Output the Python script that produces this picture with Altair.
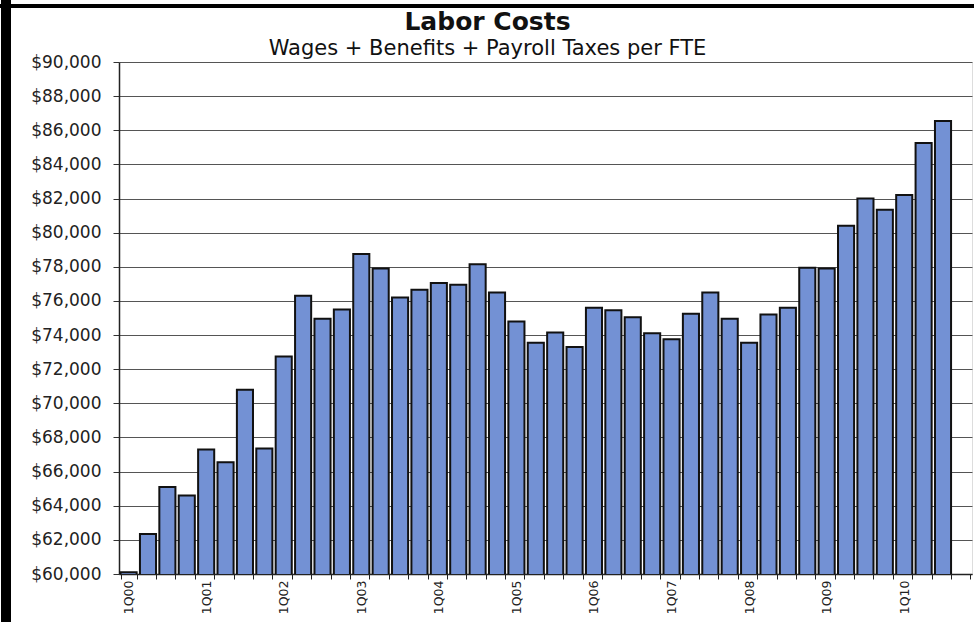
import altair as alt
import pandas as pd

years = ["00", "01", "02", "03", "04", "05", "06", "07", "08", "09", "10"]
quarters = [f"{q}Q{y}" for y in years for q in (1, 2, 3, 4)]  # 1Q00 .. 4Q10
values = [
    60100, 62350, 65100, 64600, 67300, 66550, 70800, 67350,
    72750, 76300, 74950, 75500, 78750, 77900, 76200, 76650,
    77050, 76950, 78150, 76500, 74800, 73550, 74150, 73300,
    75600, 75450, 75050, 74100, 73750, 75250, 76500, 74950,
    73550, 75200, 75600, 77950, 77900, 80400, 82000, 81350,
    82200, 85250, 86550,
]
y_ticks = list(range(60000, 90001, 2000))

df = pd.DataFrame({"quarter": quarters[: len(values)], "cost": values})

FONT = "DejaVu Sans"
W, H = 853, 512
PAD_L, PAD_T = 119, 62

bars = alt.Chart(df).mark_bar(
    color="#7391d4", stroke="#111111", strokeWidth=2, clip=True
).encode(
    x=alt.X(
        "quarter:N",
        sort=quarters,
        scale=alt.Scale(domain=quarters, paddingInner=0.17, paddingOuter=0.08),
        axis=alt.Axis(
            title=None,
            labelAngle=270,
            labelAlign="right",
            labelBaseline="middle",
            labelExpr="indexof(datum.label, '1Q') == 0 ? datum.label : ''",
            labelFont=FONT,
            labelFontSize=12.5,
            labelColor="#222222",
            labelPadding=1,
            tickBand="extent",
            tickSize=5,
            tickColor="#222222",
            domainColor="#222222",
            domainWidth=1.5,
            grid=False,
            labelOverlap=False,
        ),
    ),
    y=alt.Y(
        "cost:Q",
        scale=alt.Scale(domain=[60000, 90000], zero=False, nice=False),
        axis=alt.Axis(
            title=None,
            values=y_ticks,
            format="$,.0f",
            labelFont=FONT,
            labelFontSize=17,
            labelColor="#222222",
            labelPadding=12,
            tickSize=6,
            tickColor="#333333",
            domainColor="#222222",
            domainWidth=1.5,
            grid=True,
            gridColor="#555555",
            gridWidth=1,
        ),
    ),
)

border_left = alt.Chart(df).mark_rule(color="black", strokeWidth=10).encode(
    x=alt.value(-PAD_L + 6), y=alt.value(-PAD_T), y2=alt.value(622 - PAD_T)
)
border_top = alt.Chart(df).mark_rule(color="black", strokeWidth=4).encode(
    x=alt.value(-PAD_L), x2=alt.value(974 - PAD_L), y=alt.value(-PAD_T + 6)
)

chart = alt.layer(bars, border_left, border_top).properties(
    width=W,
    height=H,
    autosize=alt.AutoSizeParams(type="none"),
    padding={"left": PAD_L, "top": PAD_T, "right": 974 - PAD_L - W, "bottom": 622 - PAD_T - H},
    title=alt.TitleParams(
        text="Labor Costs",
        subtitle="Wages + Benefits + Payroll Taxes per FTE",
        anchor="middle",
        dx=-58,
        font=FONT,
        fontSize=25,
        fontWeight="bold",
        color="#111111",
        subtitleFont=FONT,
        subtitleFontSize=21,
        subtitleColor="#111111",
        subtitlePadding=3,
        offset=-64,
    ),
).configure_view(stroke=None).configure(background="white")

chart.save("out.html", embed_options={"renderer": "svg", "actions": False})
